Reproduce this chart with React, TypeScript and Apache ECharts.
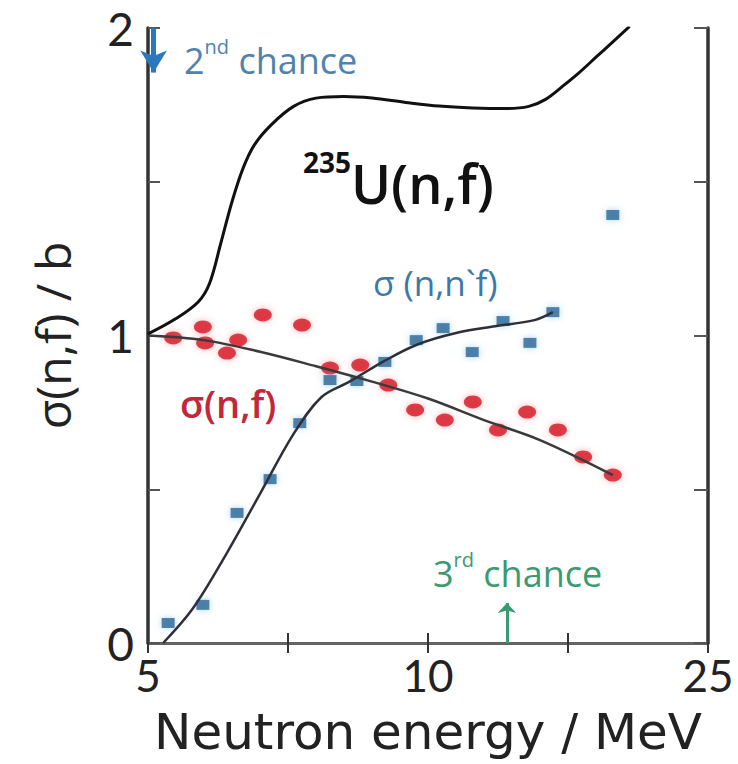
import React, { useEffect, useRef } from "react";
import * as echarts from "echarts";

// ---- Data ----
const xTickText: Record<string, string> = { "5": "5", "10": "10", "15": "25" };
const yTickText: Record<string, string> = { "0": "0", "1": "1", "2": "2" };

// 235U(n,f) evaluated cross section (black curve)
const u235Energy = [5.0, 5.5, 5.9, 6.1, 6.3, 6.5, 6.7, 6.9, 7.2, 7.6, 8.0, 8.5, 9.0, 9.6, 10.2, 10.8, 11.4, 11.8, 12.1, 12.4, 12.7, 13.0, 13.3, 13.6];
const u235Sigma = [1.005, 1.055, 1.11, 1.17, 1.3, 1.435, 1.545, 1.62, 1.685, 1.745, 1.772, 1.777, 1.772, 1.758, 1.746, 1.74, 1.738, 1.745, 1.768, 1.81, 1.855, 1.905, 1.955, 2.005];

// sigma(n,f) data points (red)
const nfEnergy = [5.45, 5.98, 6.02, 6.41, 6.61, 7.05, 7.75, 8.25, 8.79, 9.29, 9.77, 10.3, 10.8, 11.25, 11.77, 12.32, 12.77, 13.3];
const nfSigma = [0.992, 1.028, 0.976, 0.943, 0.985, 1.067, 1.034, 0.894, 0.904, 0.839, 0.758, 0.725, 0.784, 0.693, 0.751, 0.693, 0.605, 0.546];

// sigma(n,f) trend line
const nfFitEnergy = [5.0, 6.0, 7.0, 8.0, 9.0, 10.0, 11.0, 12.0, 13.3];
const nfFitSigma = [1.0, 0.985, 0.947, 0.9, 0.85, 0.795, 0.725, 0.66, 0.546];

// sigma(n,n'f) data points (blue)
const nnfEnergy = [5.36, 5.98, 6.59, 7.18, 7.71, 8.25, 8.73, 9.23, 9.79, 10.27, 10.79, 11.34, 11.82, 12.23, 13.3];
const nnfSigma = [0.065, 0.124, 0.423, 0.533, 0.715, 0.855, 0.852, 0.914, 0.985, 1.024, 0.946, 1.047, 0.976, 1.076, 1.392];

// sigma(n,n'f) trend line
const nnfFitEnergy = [5.27, 5.8, 6.4, 7.0, 7.6, 8.1, 8.6, 9.2, 9.8, 10.5, 11.2, 11.9, 12.23];
const nnfFitSigma = [0.0, 0.112, 0.29, 0.485, 0.68, 0.8, 0.85, 0.915, 0.97, 1.008, 1.03, 1.05, 1.076];

// chance thresholds (arrows)
const secondChance = { energy: 5.1, from: 2.0, to: 1.855 };
const thirdChance = { energy: 11.41, from: 0.0, to: 0.13 };

const zip = (xs: number[], ys: number[]) => xs.map((x, i) => [x, ys[i]]);

const FONT = "Lato, 'Open Sans', sans-serif";
const FONT2 = "'Open Sans', Lato, sans-serif";
const FONT3 = "'DejaVu Sans', 'Open Sans', sans-serif";

export default function App() {
  const ref = useRef<HTMLDivElement>(null);
  useEffect(() => {
    if (!ref.current) return;
    const chart = echarts.init(ref.current, undefined, { renderer: "svg" });
    const sharedX = {
      type: "value" as const,
      min: 5,
      max: 15,
      interval: 2.5,
      splitLine: { show: false },
    };
    const sharedY = {
      type: "value" as const,
      min: 0,
      max: 2,
      interval: 0.5,
      splitLine: { show: false },
    };
    const arrowLine = (
      c: { energy: number; from: number; to: number },
      color: string,
      width: number,
      head: number[]
    ) => [
      { coord: [c.energy, c.from], symbol: "none", lineStyle: { color, width, type: "solid" } },
      { coord: [c.energy, c.to], symbol: "arrow", symbolSize: head },
    ];
    chart.setOption({
      animation: false,
      backgroundColor: "#ffffff",
      textStyle: { fontFamily: FONT },
      grid: { left: 148, right: 30, top: 28, bottom: 121, containLabel: false },
      xAxis: [
        {
          ...sharedX,
          position: "bottom",
          name: "Neutron energy / MeV",
          nameLocation: "middle",
          nameGap: 62,
          nameTextStyle: { fontSize: 50, lineHeight: 54, color: "#222", fontFamily: FONT3 },
          axisLine: { lineStyle: { color: "#555", width: 3 } },
          axisTick: { inside: true, length: 10, lineStyle: { color: "#333", width: 2 } },
          axisLabel: {
            fontSize: 44,
            lineHeight: 44,
            color: "#222",
            margin: 10,
            fontFamily: FONT,
            formatter: (v: number) => xTickText[String(v)] ?? "",
          },
        },
        {
          ...sharedX,
          position: "top",
          axisLine: { lineStyle: { color: "#666", width: 2.5 } },
          axisTick: { inside: true, length: 10, lineStyle: { color: "#333", width: 2 } },
          axisLabel: { show: false },
        },
      ],
      yAxis: [
        {
          ...sharedY,
          position: "left",
          name: "σ(n,f) / b",
          nameLocation: "middle",
          nameGap: 72,
          nameTextStyle: { fontSize: 48, color: "#222", fontFamily: FONT2 },
          axisLine: { lineStyle: { color: "#333", width: 3.5 } },
          axisTick: { inside: true, length: 12, lineStyle: { color: "#555", width: 2 } },
          axisLabel: {
            fontSize: 46,
            color: "#222",
            margin: 14,
            fontFamily: FONT,
            formatter: (v: number) => yTickText[String(v)] ?? "",
          },
        },
        {
          ...sharedY,
          position: "right",
          axisLine: { lineStyle: { color: "#333", width: 3.5 } },
          axisTick: { inside: true, length: 14, lineStyle: { color: "#555", width: 2 } },
          axisLabel: { show: false },
        },
      ],
      series: [
        {
          name: "235U(n,f)",
          type: "line",
          data: zip(u235Energy, u235Sigma),
          smooth: 0.35,
          showSymbol: false,
          lineStyle: { color: "#111", width: 3 },
          clip: true,
          z: 5,
        },
        {
          name: "σ(n,f)",
          type: "scatter",
          data: zip(nfEnergy, nfSigma),
          symbol: "circle",
          symbolSize: [18, 13],
          itemStyle: { color: "#d5101f", shadowColor: "rgba(240,80,90,0.55)", shadowBlur: 7 },
          z: 3,
        },
        {
          name: "σ(n,f) trend",
          type: "line",
          data: zip(nfFitEnergy, nfFitSigma),
          smooth: 0.35,
          showSymbol: false,
          lineStyle: { color: "#3a3a3a", width: 2.5 },
          z: 4,
        },
        {
          name: "σ(n,n'f)",
          type: "scatter",
          data: zip(nnfEnergy, nnfSigma),
          symbol: "rect",
          symbolSize: [13, 10],
          itemStyle: { color: "#2b6494", shadowColor: "rgba(80,170,230,0.6)", shadowBlur: 7 },
          z: 3,
        },
        {
          name: "σ(n,n'f) trend",
          type: "line",
          data: zip(nnfFitEnergy, nnfFitSigma),
          smooth: 0.35,
          showSymbol: false,
          lineStyle: { color: "#2f2f3a", width: 2.5 },
          z: 4,
          markLine: {
            silent: true,
            label: { show: false },
            data: [
              arrowLine(secondChance, "#2a78c0", 5, [20, 22]),
              arrowLine(thirdChance, "#3a9a70", 3, [14, 10]),
            ],
          },
        },
      ],
      graphic: [
        {
          type: "text",
          left: 184,
          top: 36,
          style: {
            text: "{n|2}{s|nd}{n| chance}",
            rich: {
              n: { fontSize: 36, lineHeight: 42, fill: "#4f83ad", fontFamily: FONT2, verticalAlign: "bottom" },
              s: { fontSize: 20, lineHeight: 22, fill: "#4f83ad", fontFamily: FONT2, verticalAlign: "top" },
            },
          },
        },
        {
          type: "text",
          left: 303,
          top: 148,
          style: {
            text: "{s|235}{n|U(n,f)}",
            rich: {
              n: { fontSize: 54, lineHeight: 62, fill: "#111", fontWeight: 600, fontFamily: FONT2, verticalAlign: "bottom" },
              s: { fontSize: 28, lineHeight: 32, fill: "#111", fontWeight: "bold", fontFamily: FONT2, verticalAlign: "top" },
            },
          },
        },
        {
          type: "text",
          left: 373,
          top: 265,
          style: { text: "σ (n,n`f)", fontSize: 35, fill: "#3d78a8", fontFamily: FONT2 },
        },
        {
          type: "text",
          left: 180,
          top: 384,
          style: { text: "σ(n,f)", fontSize: 38, fontWeight: 600, fill: "#c2283a", fontFamily: FONT2 },
        },
        {
          type: "text",
          left: 433,
          top: 549,
          style: {
            text: "{n|3}{s|rd}{n| chance}",
            rich: {
              n: { fontSize: 36, lineHeight: 42, fill: "#3a9a70", fontFamily: FONT2, verticalAlign: "bottom" },
              s: { fontSize: 20, lineHeight: 22, fill: "#3a9a70", fontFamily: FONT2, verticalAlign: "top" },
            },
          },
        },
      ],
    });
    return () => chart.dispose();
  }, []);
  return (
    <div
      ref={ref}
      style={{ position: "absolute", left: 0, top: 0, width: 738, height: 764, background: "#fff" }}
    />
  );
}
